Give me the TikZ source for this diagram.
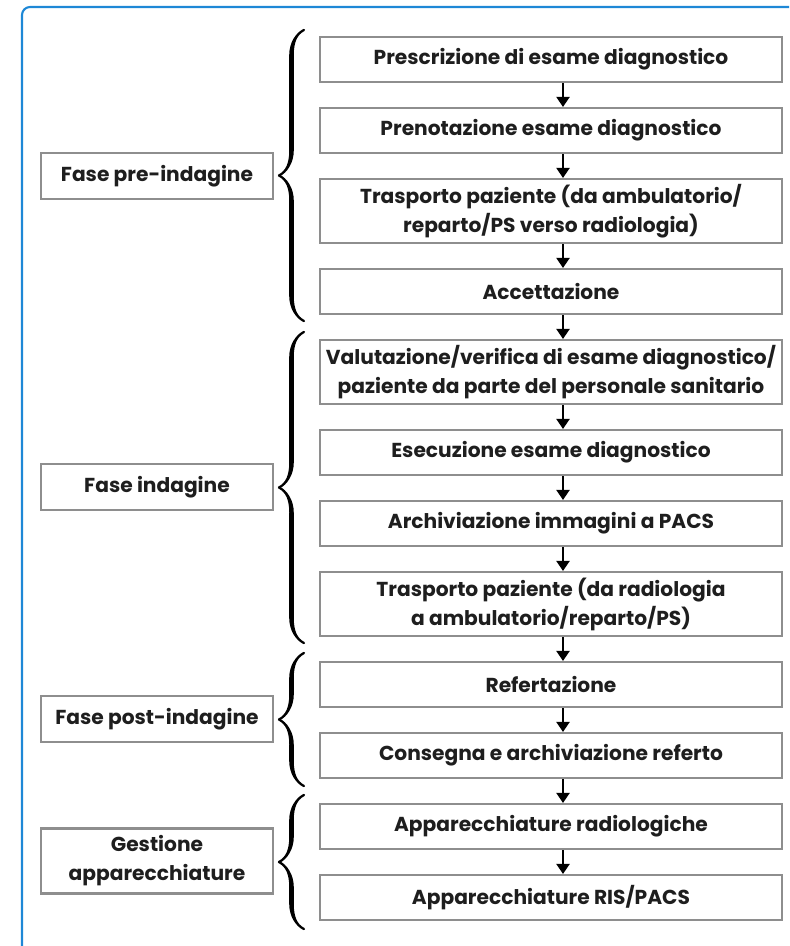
\documentclass[tikz,border=0pt]{standalone}
\usepackage{fontspec}
\setmainfont{Poppins}
\usetikzlibrary{arrows.meta,decorations.pathreplacing,calligraphy}
\definecolor{frameblue}{HTML}{1E88D6}
\definecolor{boxgray}{HTML}{8E8E8E}
\definecolor{inkgray}{HTML}{1E1E1E}
\begin{document}
\begin{tikzpicture}[x=0.02cm,y=-0.02cm]
\tikzstyle{stepbox}=[draw=boxgray,rectangle,line width=1.2pt,minimum width=9.24cm,inner sep=2pt,align=center,text=inkgray,font=\bfseries\fontsize{11.5}{16.5}\selectfont]
\tikzstyle{phasebox}=[draw=boxgray,rectangle,line width=1.2pt,minimum width=4.64cm,inner sep=2pt,align=center,text=inkgray,font=\bfseries\fontsize{11.5}{16.5}\selectfont]
\tikzstyle{bracket}=[decorate,decoration={calligraphic brace,amplitude=0.5cm},line width=2.6pt]
\useasboundingbox (0,0) rectangle (789,946);

% Outer frame
\draw[frameblue,line width=1.2pt,rounded corners=0.16cm] (22,946) -- (22,7) -- (789,7);

% Workflow steps
\foreach \i/\y/\h/\txt in {1/59.5/0.9/{Prescrizione di esame diagnostico},
                           2/130.5/0.9/{Prenotazione esame diagnostico},
                           3/211/1.28/{Trasporto paziente (da ambulatorio/\\reparto/PS verso radiologia)},
                           4/291.5/0.9/{Accettazione},
                           5/372/1.28/{Valutazione/verifica di esame diagnostico/\\paziente da parte del personale sanitario},
                           6/452.5/0.9/{Esecuzione esame diagnostico},
                           7/523.5/0.9/{Archiviazione immagini a PACS},
                           8/604/1.28/{Trasporto paziente (da radiologia\\a ambulatorio/reparto/PS)},
                           9/684.5/0.9/{Refertazione},
                           10/755.5/0.9/{Consegna e archiviazione referto},
                           11/826.5/0.9/{Apparecchiature radiologiche},
                           12/897.5/0.9/{Apparecchiature RIS/PACS}} {
  \node[stepbox,minimum height=\h cm] (s\i) at (551,\y) {\txt};
}

% Arrows between steps
\coordinate (ax) at (563,0);
\foreach \i/\j in {1/2,2/3,3/4,4/5,5/6,6/7,7/8,8/9,9/10,10/11,11/12} {
  \draw[-{Triangle[length=0.2cm,width=0.26cm]},line width=1.2pt] (s\i.south -| ax) -- (s\j.north -| ax);
}

% Phases
\node[phasebox,minimum height=0.92cm] (pre) at (157,176) {Fase pre-indagine};
\node[phasebox,minimum height=0.92cm] (ind) at (157,487) {Fase indagine};
\node[phasebox,minimum height=0.92cm] (post) at (157,719) {Fase post-indagine};
\node[phasebox,minimum height=1.3cm] (app) at (157,861) {Gestione\\apparecchiature};

% Braces
\draw[bracket] ([xshift=-0.3cm,yshift=-0.12cm]s4.south west) -- ([xshift=-0.3cm,yshift=0.12cm]s1.north west);
\draw[bracket] ([xshift=-0.3cm,yshift=-0.12cm]s8.south west) -- ([xshift=-0.3cm,yshift=0.14cm]s5.north west);
\draw[bracket] ([xshift=-0.3cm,yshift=-0.14cm]s10.south west) -- ([xshift=-0.3cm,yshift=0.16cm]s9.north west);
\draw[bracket] ([xshift=-0.3cm,yshift=-0.16cm]s12.south west) -- ([xshift=-0.3cm,yshift=0.16cm]s11.north west);
\end{tikzpicture}
\end{document}
